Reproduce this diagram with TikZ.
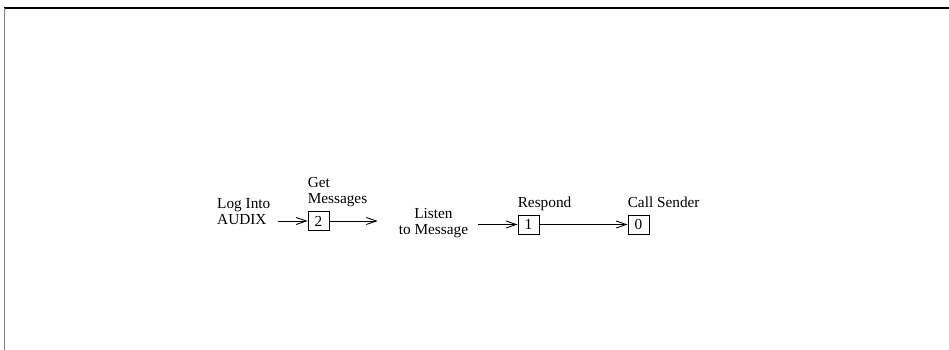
\documentclass[tikz,border=0pt]{standalone}
\usepackage{fontspec}
\setmainfont{Liberation Serif}
\usepackage{tikz}
\usetikzlibrary{positioning}
\usetikzlibrary{arrows.meta}

\tikzset{
  numbox/.style={draw, line width=0.9pt, minimum width=21pt, minimum height=19pt,
    inner sep=0pt, font=\fontsize{15.3}{16}\selectfont},
  lbl/.style={inner sep=0pt, font=\fontsize{15.3}{16}\selectfont},
  arr/.style={line width=0.9pt, -{Straight Barb[length=10pt,width=7pt,line width=0.9pt]}}
}

\begin{document}
\begin{tikzpicture}[x=1pt,y=-1pt]
 \useasboundingbox (0,0) rectangle (949,350);
 \draw[line width=1.2pt] (4,8) -- (949,8);
 \draw[line width=1.8pt, gray] (4.5,8) -- (4.5,350);
 % the boxes
 \node[numbox] (two)  at (318.5,221) {2};
 \node[numbox] (one)  at (528.5,224.5) {1};
 \node[numbox] (zero) at (638.5,224.5) {0};
 % the labels
 \node[lbl, align=left, anchor=base west] (login) at (217,224) {Log Into\\AUDIX};
 \node[lbl, align=center] (listen) at (433.5,223) {Listen\\to Message};
 \node[lbl, align=left, above right=4pt and 0pt of two.north west] (get) {Get\\Messages};
 \node[lbl, text depth=3.5pt, above right=3pt and 0pt of one.north west] (respond) {Respond};
 \node[lbl, text depth=3.5pt, above right=3pt and 0pt of zero.north west] (call) {Call Sender};
  \draw[arr, shorten <=7pt] (login.east |- two) -- (two);
  \draw[arr, shorten >=21pt] (two) -- (listen.west |- two);
  \draw[arr, shorten <=10pt] (listen.east |- one) -- (one);
  \draw[arr] (one) -- (zero);
\end{tikzpicture}
\end{document}
